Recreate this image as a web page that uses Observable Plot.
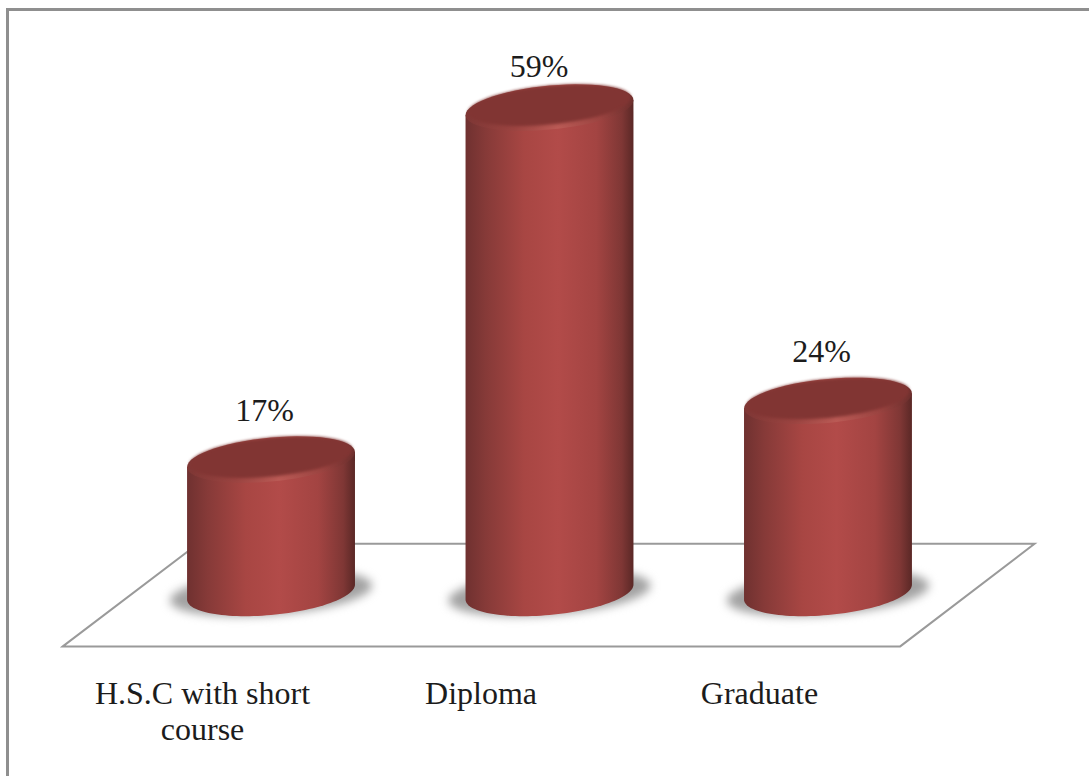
<!DOCTYPE html>
<html>
<head>
<meta charset="utf-8">
<script src="https://cdn.jsdelivr.net/npm/d3@7"></script>
<script src="https://cdn.jsdelivr.net/npm/@observablehq/plot@0.6"></script>
<style>
  html, body { margin: 0; padding: 0; background: #fff; overflow: hidden; }
</style>
</head>
<body>
<div id="chart"></div>
<script>
// Education level of respondents, share in percent
const categories = ["H.S.C with short course", "Diploma", "Graduate"];
const shares = [17, 59, 24];
const shareLabels = ["17%", "59%", "24%"];

const rows = categories.map((category, i) => ({ category, share: shares[i], label: shareLabels[i] }));

const WIDTH = 1089, HEIGHT = 776;

// Elliptical outline of a tilted cylinder section: rx wide, ry deep, rising to the right by tilt.
function sectionPath(cx, cy, rx, ry, tilt, from = 0, to = 2 * Math.PI) {
  const pts = d3.range(0, 61).map(k => {
    const t = from + (to - from) * k / 60;
    return [cx + rx * Math.cos(t), cy + ry * Math.sin(t) - tilt * Math.cos(t)];
  });
  return pts;
}
const closed = pts => "M" + pts.map(p => p.map(v => v.toFixed(2)).join(",")).join("L") + "Z";

function svgEl(context, name, attrs, parent) {
  const el = context.document.createElementNS("http://www.w3.org/2000/svg", name);
  for (const [k, v] of Object.entries(attrs)) el.setAttribute(k, v);
  if (parent) parent.appendChild(el);
  return el;
}

function gradient(defs, context, id, stops) {
  const g = svgEl(context, "linearGradient", { id, x1: 0, x2: 1, y1: 0, y2: 0 }, defs);
  for (const [offset, color] of stops) svgEl(context, "stop", { offset, "stop-color": color }, g);
}

// Outer frame (top and left edges only) and the gradients shared by the cylinders
function backdrop(index, scales, values, dimensions, context) {
  const g = svgEl(context, "g", {});
  const defs = svgEl(context, "defs", {}, g);
  gradient(defs, context, "cylSide", [
    [0, "#6f3130"], [0.12, "#863a38"], [0.35, "#a84643"], [0.55, "#b24b49"],
    [0.78, "#a34442"], [0.93, "#7f3735"], [1, "#5a2826"]
  ]);
  gradient(defs, context, "cylRim", [
    [0, "#7e3735"], [0.3, "#9c4441"], [0.55, "#ba5a55"], [0.8, "#9c4441"], [1, "#6c2f2d"]
  ]);
  const blur = svgEl(context, "filter", {
    id: "softShadow", x: "-20%", y: "-40%", width: "140%", height: "180%",
    "color-interpolation-filters": "sRGB"
  }, defs);
  svgEl(context, "feGaussianBlur", { stdDeviation: 5 }, blur);
  const soft = svgEl(context, "filter", {
    id: "softRim", x: "-5%", y: "-20%", width: "110%", height: "140%",
    "color-interpolation-filters": "sRGB"
  }, defs);
  svgEl(context, "feGaussianBlur", { stdDeviation: 1.4 }, soft);
  svgEl(context, "path", {
    d: `M7.5,${dimensions.height}V9.5H${dimensions.width}`,
    fill: "none", stroke: "#8f8f8f", "stroke-width": 3
  }, g);
  return g;
}

// Floor plane the cylinders stand on, anchored to the band and value scales
const floorFront = -5.3, floorBack = 6.95;
function floor(index, scales, values, dimensions, context) {
  const g = svgEl(context, "g", {});
  const bw = typeof scales.x.bandwidth === "function" ? scales.x.bandwidth() : scales.x.bandwidth;
  const first = scales.x(categories[0]), last = scales.x(categories[categories.length - 1]) + bw;
  const yF = scales.y(floorFront), yB = scales.y(floorBack);
  const pts = [
    [first - 0.74 * bw, yF], [first + 0.065 * bw, yB],
    [last + 0.73 * bw, yB], [last - 0.07 * bw, yF]
  ];
  svgEl(context, "path", { d: closed(pts), fill: "#fff", stroke: "#9a9a9a", "stroke-width": 2 }, g);
  return g;
}

// Swaps each flat bar for a cylinder of the same width and top value
function cylinder(index, scales, values, dimensions, context, next) {
  const group = next(index, scales, values, dimensions, context);
  const RY = 22, TILT = 7.5, LIFT = 10;
  for (const rect of [...group.querySelectorAll("rect")]) {
    const x = +rect.getAttribute("x"), w = +rect.getAttribute("width");
    const y = +rect.getAttribute("y"), h = +rect.getAttribute("height");
    const cx = x + w / 2, rx = w / 2, top = y, base = y + h - LIFT;
    const g = svgEl(context, "g", {});
    // contact shadow
    svgEl(context, "path", {
      d: closed(sectionPath(cx, base + 1, rx + 17, RY, TILT)),
      fill: "#a2a2a2", filter: "url(#softShadow)"
    }, g);
    // side wall: down the left edge, round the front of the base, up the right edge
    const front = sectionPath(cx, base, rx, RY + 1, TILT, Math.PI, 0);
    const wall = [[cx - rx, top + TILT], ...front, [cx + rx, top - TILT]];
    svgEl(context, "path", { d: closed(wall), fill: "url(#cylSide)" }, g);
    // bevelled rim with a crisp outline, then the dark top cap blending into it
    svgEl(context, "path", {
      d: closed(sectionPath(cx, top, rx, RY, TILT)),
      fill: "url(#cylRim)"
    }, g);
    svgEl(context, "path", {
      d: closed(sectionPath(cx, top - 2.5, rx - 2.5, RY - 2.5, TILT)),
      fill: "#813533", filter: "url(#softRim)"
    }, g);
    rect.replaceWith(g);
  }
  return group;
}

// Labels sit closer to the tallest column than to the short ones
const isTallest = d => d.share === d3.max(shares);

const plot = Plot.plot({
  width: WIDTH,
  height: HEIGHT,
  marginTop: 0,
  marginRight: 66.5,
  marginBottom: 174,
  marginLeft: 76.5,
  style: { fontFamily: "'Liberation Serif', serif", background: "#fff", color: "#1c1c1c" },
  x: { domain: categories, range: [76.5, 1022.5], padding: 0.397, round: false, label: null },
  y: { domain: [0, 60], range: [602, 99.2], axis: null },
  marks: [
    backdrop,
    floor,
    Plot.barY(rows, { x: "category", y: "share", fill: "#a84643", render: cylinder }),
    Plot.text(rows.filter(d => !isTallest(d)), {
      x: "category", y: "share", text: "label",
      fontSize: 32, dx: -7, dy: -39, lineAnchor: "bottom", fill: "#1c1c1c"
    }),
    Plot.text(rows.filter(isTallest), {
      x: "category", y: "share", text: "label",
      fontSize: 32, dx: -11, dy: -31, lineAnchor: "bottom", fill: "#1c1c1c"
    }),
    Plot.axisX({
      tickSize: 0, fontSize: 32, dx: -69, dy: 66, lineWidth: 8.2, lineHeight: 1.15,
      fill: "#1c1c1c", label: null, textOverflow: null
    })
  ]
});
document.getElementById("chart").appendChild(plot);
</script>
</body>
</html>
